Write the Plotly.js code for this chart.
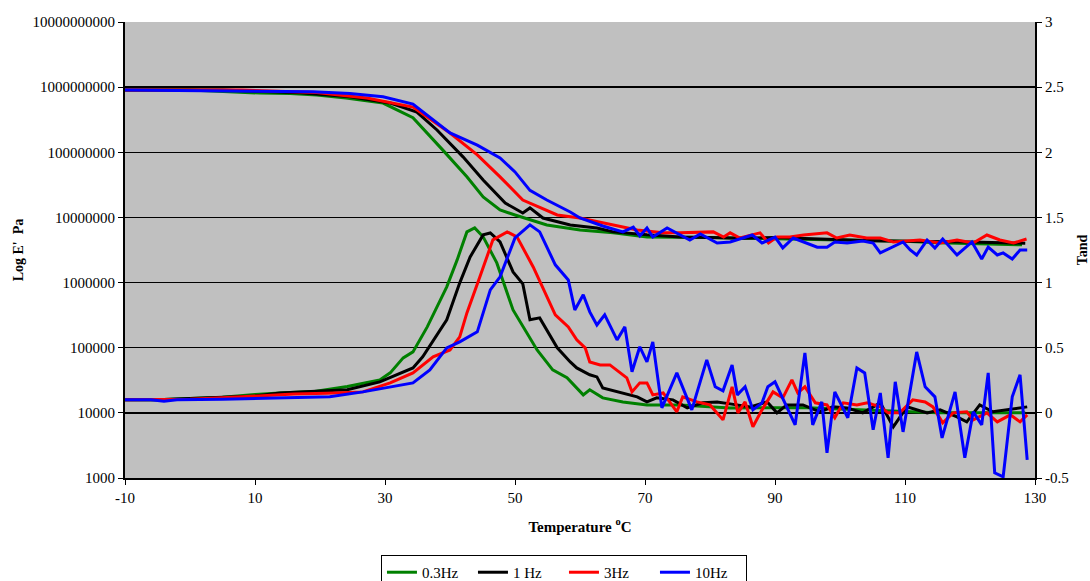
<!DOCTYPE html>
<html>
<head>
<meta charset="utf-8">
<script src="https://cdn.plot.ly/plotly-3.0.1.min.js"></script>
<style>html,body{margin:0;padding:0;background:#fff}#chart{width:1090px;height:581px}</style>
</head>
<body>
<div id="chart"></div>
<script>
// ---- data ----
var seriesNames = ["0.3Hz", "1 Hz", "3Hz", "10Hz"];

// storage modulus E' (Pa) vs temperature
var tE_03 = [-10, 0, 10.8, 15.4, 19.5, 24, 29.7, 34.3, 38.9, 42.6, 45.1, 47.7, 50, 52, 54.9, 60, 65.1, 70.3, 75, 80, 85, 90, 95, 100, 105, 110, 115, 120, 125, 128];
var E_03  = [9.0e8, 9.0e8, 8.1e8, 8.0e8, 7.6e8, 6.8e8, 5.7e8, 3.4e8, 1.08e8, 4.2e7, 2.06e7, 1.3e7, 1.09e7, 9.5e6, 7.65e6, 6.4e6, 5.8e6, 5.0e6, 5.0e6, 4.9e6, 4.8e6, 4.7e6, 4.6e6, 4.5e6, 4.4e6, 4.3e6, 4.1e6, 4.0e6, 3.9e6, 3.8e6];

var tE_1 = [-10, 5, 16.9, 24.6, 30.8, 34.9, 38, 42, 45.1, 47.7, 48.5, 51.2, 52.3, 54.3, 58.5, 62.6, 65.1, 70.3, 75.4, 80, 85, 90, 95, 100, 105, 110, 115, 120, 125, 128.5];
var E_1  = [9.0e8, 9.0e8, 8.2e8, 7.1e8, 5.7e8, 4.15e8, 2.2e8, 8.5e7, 3.75e7, 2.06e7, 1.66e7, 1.17e7, 1.4e7, 9.8e6, 7.65e6, 6.9e6, 6.0e6, 5.4e6, 5.0e6, 4.9e6, 4.8e6, 4.9e6, 4.7e6, 4.6e6, 4.4e6, 4.3e6, 4.3e6, 4.2e6, 4.1e6, 4.0e6];

var tE_3 = [-10, 8, 19.5, 27.2, 34.3, 40, 44.2, 47.7, 51.2, 56.5, 60, 65.1, 68.8, 72.8, 75.4, 80.5, 82.1, 83.1, 84.6, 87.7, 89.0, 90.3, 92.3, 94.4, 98.0, 99.5, 101.5, 104.1, 106.2, 108.2, 112.3, 115.4, 118.0, 120.5, 122.6, 124.6, 126.7, 128.7];
var E_3  = [9.0e8, 9.0e8, 8.3e8, 6.8e8, 4.95e8, 1.98e8, 9.1e7, 4.2e7, 1.85e7, 1.09e7, 9.8e6, 7.65e6, 6.4e6, 5.8e6, 5.8e6, 6.0e6, 5.0e6, 5.8e6, 4.83e6, 5.8e6, 4.05e6, 5.0e6, 5.0e6, 5.37e6, 5.8e6, 4.83e6, 5.37e6, 4.83e6, 4.83e6, 4.2e6, 4.5e6, 4.05e6, 4.5e6, 4.05e6, 5.37e6, 4.5e6, 4.05e6, 4.66e6];

var tE_10 = [-10, 9.2, 18.9, 24.6, 29.7, 34.3, 40, 44.2, 47.7, 50, 52.3, 54.9, 58.5, 60, 63.5, 66.6, 68.2, 69.2, 70.3, 71.2, 73.4, 76.9, 78.5, 81.1, 83.1, 86.5, 88.0, 90.0, 91.2, 92.8, 96.5, 98.0, 99.2, 101.1, 103.5, 105.1, 106.2, 109.7, 110.8, 111.8, 113.4, 114.6, 115.8, 118, 120.3, 121.8, 122.8, 124.2, 125.1, 126.5, 127.7, 128.8];
var E_10  = [9.0e8, 8.8e8, 8.5e8, 8.0e8, 7.1e8, 5.5e8, 1.98e8, 1.29e8, 8.2e7, 5.0e7, 2.6e7, 1.85e7, 1.21e7, 9.8e6, 7.4e6, 6.0e6, 7.1e6, 5.2e6, 6.9e6, 5.0e6, 6.9e6, 4.5e6, 5.56e6, 4.05e6, 4.2e6, 5.37e6, 4.05e6, 5.0e6, 3.4e6, 4.83e6, 3.5e6, 3.5e6, 4.2e6, 4.05e6, 4.35e6, 4.05e6, 2.85e6, 4.2e6, 3.16e6, 2.65e6, 4.5e6, 3.4e6, 4.66e6, 2.65e6, 4.2e6, 2.3e6, 3.5e6, 2.65e6, 2.85e6, 2.3e6, 3.16e6, 3.16e6];

// tan delta vs temperature
var tT_03 = [-10, -5, 0, 5, 10, 13.8, 18.9, 24.2, 29.2, 30.8, 32.8, 34.3, 36.5, 39.5, 41.1, 42.6, 43.8, 45.1, 47.2, 49.7, 53.4, 55.8, 58, 60.5, 61.5, 63.5, 66.6, 70.3, 75.4, 80.5, 83.1, 90, 95, 100, 105, 110, 115, 120, 125, 128.5];
var tan_03 = [0.10, 0.10, 0.11, 0.12, 0.14, 0.153, 0.163, 0.202, 0.253, 0.307, 0.422, 0.468, 0.66, 0.967, 1.174, 1.389, 1.42, 1.351, 1.151, 0.79, 0.483, 0.33, 0.269, 0.138, 0.177, 0.115, 0.084, 0.061, 0.061, 0.046, 0.038, 0.04, 0.04, 0.03, 0.02, 0.01, 0, 0, 0, 0];

var tT_1 = [-10, -5, 0, 5, 10, 13.8, 24.2, 29.2, 34.3, 35.8, 39.5, 41.5, 43.1, 45.1, 46.2, 47.7, 49.7, 51.2, 52.3, 53.8, 56.5, 58.5, 59.5, 61.5, 62.6, 63.5, 66.6, 68.8, 70.3, 71.8, 74.3, 76.5, 78.9, 81.1, 83.1, 86.2, 88.8, 90.3, 91.8, 94.3, 96.9, 98.9, 101.1, 103.5, 106.2, 108.2, 110.3, 113.4, 115.4, 118, 119.5, 121.5, 123.5, 125.7, 128.8];
var tan_1 = [0.10, 0.10, 0.11, 0.12, 0.13, 0.153, 0.177, 0.238, 0.345, 0.43, 0.714, 0.998, 1.197, 1.366, 1.381, 1.312, 1.082, 0.99, 0.714, 0.729, 0.499, 0.391, 0.345, 0.292, 0.276, 0.192, 0.153, 0.123, 0.084, 0.115, 0.10, 0.038, 0.077, 0.084, 0.069, 0.046, 0.084, 0.0, 0.061, 0.061, 0.008, 0.046, 0.038, 0.0, 0.077, -0.107, 0.046, 0.0, 0.023, -0.031, -0.069, 0.061, 0.008, 0.023, 0.046];

var tT_3 = [-10, -5, 0, 5, 10, 16, 21, 26.6, 30.8, 34.3, 37.4, 40, 41.5, 42.6, 44.6, 46.6, 48.8, 50.3, 52.8, 54.3, 56.2, 58.2, 59.5, 60.8, 61.5, 63.1, 64.6, 67.2, 68.0, 69.2, 70.3, 71.2, 72.8, 74.9, 75.8, 78.0, 80, 82.0, 83.4, 84.3, 85.4, 86.6, 88.0, 89.7, 91.2, 92.6, 93.5, 94.6, 96.2, 98.0, 99.2, 100.5, 102.6, 104.2, 106.2, 107.4, 109.2, 111.2, 113.1, 114.3, 115.8, 117.4, 119.5, 120.5, 122.6, 124.2, 126.2, 127.7, 128.8];
var tan_3 = [0.10, 0.10, 0.105, 0.115, 0.13, 0.145, 0.15, 0.161, 0.23, 0.307, 0.43, 0.483, 0.583, 0.767, 1.044, 1.328, 1.389, 1.351, 1.12, 0.96, 0.752, 0.66, 0.56, 0.499, 0.391, 0.368, 0.368, 0.269, 0.161, 0.23, 0.23, 0.138, 0.153, 0.008, 0.123, 0.084, 0.061, -0.054, 0.2, 0.0, 0.084, -0.107, 0.023, 0.161, 0.115, 0.253, 0.153, 0.2, 0.077, 0.061, -0.038, 0.077, 0.061, 0.077, 0.046, 0.0, 0.0, 0.10, 0.084, 0.046, -0.077, 0.0, 0.008, -0.054, 0.0, -0.069, -0.015, -0.069, -0.015];

var tT_10 = [-10, -6, -4, -2, 5, 10, 15, 21.5, 26.6, 34.3, 36.9, 39.5, 41.5, 44.2, 46.2, 47.7, 50, 52.3, 53.8, 56.2, 58.2, 59.2, 60.5, 61.5, 62.6, 63.8, 65.7, 66.9, 68.0, 69.2, 70.3, 71.2, 72.6, 74.9, 77.2, 79.5, 80.8, 82.0, 83.4, 84.2, 85.4, 86.6, 88.0, 88.9, 90, 93.1, 94.6, 95.8, 97.2, 98.0, 99.2, 101.2, 102.6, 103.8, 105.1, 106.2, 107.4, 108.5, 109.7, 111.8, 113.1, 114.6, 115.7, 117.7, 119.2, 120.5, 121.8, 122.8, 123.8, 125.1, 126.5, 127.7, 128.8];
var tan_10 = [0.10, 0.10, 0.09, 0.10, 0.105, 0.11, 0.115, 0.123, 0.161, 0.23, 0.33, 0.499, 0.545, 0.622, 0.944, 1.044, 1.343, 1.443, 1.389, 1.136, 1.02, 0.79, 0.906, 0.775, 0.675, 0.752, 0.56, 0.66, 0.315, 0.507, 0.391, 0.545, 0.038, 0.307, 0.023, 0.407, 0.2, 0.169, 0.368, 0.138, 0.2, 0.023, 0.077, 0.2, 0.238, -0.092, 0.46, -0.092, 0.084, -0.307, 0.161, -0.038, 0.345, 0.307, -0.13, 0.153, -0.345, 0.238, -0.146, 0.468, 0.2, 0.123, -0.192, 0.161, -0.345, 0.008, -0.092, 0.307, -0.46, -0.491, 0.123, 0.292, -0.36];

// axis ticks
var xTickVals = [-10, 10, 30, 50, 70, 90, 110, 130];
var xTickText = ["-10", "10", "30", "50", "70", "90", "110", "130"];
var yTickVals = [1e3, 1e4, 1e5, 1e6, 1e7, 1e8, 1e9, 1e10];
var yTickText = ["1000", "10000", "100000", "1000000", "10000000", "100000000", "1000000000", "10000000000"];
var y2TickVals = [-0.5, 0, 0.5, 1, 1.5, 2, 2.5, 3];
var y2TickText = ["-0.5", "0", "0.5", "1", "1.5", "2", "2.5", "3"];

// ---- build traces ----
var colors = ["#008000", "#000000", "#FF0000", "#0000FF"];
var eT = [tE_03, tE_1, tE_3, tE_10], eV = [E_03, E_1, E_3, E_10];
var dT = [tT_03, tT_1, tT_3, tT_10], dV = [tan_03, tan_1, tan_3, tan_10];
var traces = [];
for (var i = 0; i < 4; i++) {
  traces.push({x: eT[i], y: eV[i], type: "scatter", mode: "lines", name: seriesNames[i],
    legendgroup: "g" + i, showlegend: true, yaxis: "y",
    line: {color: colors[i], width: 3}, hoverinfo: "skip"});
}
for (var j = 0; j < 4; j++) {
  traces.push({x: dT[j], y: dV[j], type: "scatter", mode: "lines", name: seriesNames[j],
    legendgroup: "g" + j, showlegend: false, yaxis: "y2",
    line: {color: colors[j], width: 3}, hoverinfo: "skip"});
}

var F = "'Liberation Serif'";
var layout = {
  width: 1090, height: 581,
  margin: {l: 125, r: 55, t: 22, b: 103, pad: 0, autoexpand: false},
  paper_bgcolor: "#FFFFFF",
  plot_bgcolor: "#C0C0C0",
  font: {family: F, size: 15, color: "#000"},
  showlegend: true,
  legend: {orientation: "h", x: 0.5174, xref: "container", xanchor: "center",
    y: 0.0448, yref: "container", yanchor: "top",
    bgcolor: "#FFFFFF", bordercolor: "#000", borderwidth: 1, itemwidth: 30, entrywidth: 46,
    font: {family: F, size: 15, color: "#000"}, traceorder: "normal"},
  xaxis: {
    range: [-10, 130], tickvals: xTickVals, ticktext: xTickText, automargin: false,
    showgrid: false, zeroline: false, showline: true, linecolor: "#000", linewidth: 2,
    ticks: "outside", ticklen: 5, tickcolor: "#000", tickwidth: 1,
    tickfont: {family: F, size: 15},
    title: {text: "<b>Temperature <sup>o</sup>C</b>", font: {family: F, size: 15}, standoff: 16}
  },
  yaxis: {
    type: "log", range: [3, 10], tickvals: yTickVals, ticktext: yTickText, automargin: false,
    showgrid: true, gridcolor: "#000", gridwidth: 1.3, zeroline: false,
    showline: true, linecolor: "#000", linewidth: 2,
    ticks: "outside", ticklen: 5, tickcolor: "#000", tickwidth: 1,
    tickfont: {family: F, size: 15},
    title: {text: "<b>Log E'\u00a0 Pa</b>", font: {family: F, size: 14}, standoff: 6}
  },
  yaxis2: {
    overlaying: "y", side: "right", range: [-0.5, 3], tickvals: y2TickVals, ticktext: y2TickText, automargin: false,
    showgrid: false, zeroline: false, showline: true, linecolor: "#000", linewidth: 2,
    ticks: "outside", ticklen: 5, tickcolor: "#000", tickwidth: 1,
    tickfont: {family: F, size: 15},
    title: {text: "<b>Tand</b>", font: {family: F, size: 14}, standoff: 14}
  }
};

Plotly.newPlot("chart", traces, layout, {displayModeBar: false, staticPlot: true});
</script>
</body>
</html>
